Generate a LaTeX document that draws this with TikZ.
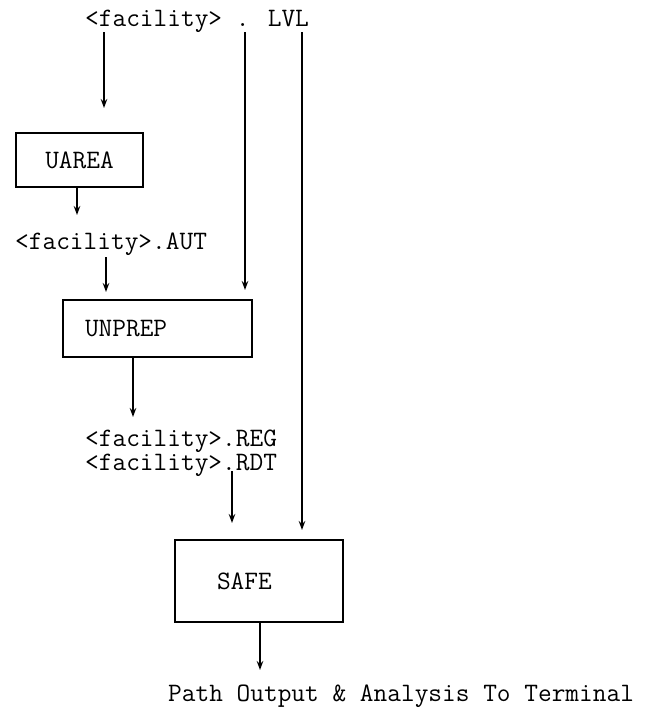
\documentclass[tikz,border=0pt]{standalone}
\usepackage{fontspec}
\usetikzlibrary{arrows.meta}
\begin{document}
\begin{tikzpicture}[x=1pt,y=-1pt,
  tfont/.style={font=\ttfamily\fontsize{26.6}{22}\selectfont},
  txt/.style={tfont, inner sep=0pt, anchor=base west},
  box/.style={draw, line width=1.4pt, tfont, inner ysep=0pt},
  arr/.style={line width=1.4pt, -{Stealth[length=9pt,width=6.5pt]}}]
\useasboundingbox (0,0) rectangle (647,713);
% texts
\node[txt] (top) at (85,26) {<facility> . LVL};
\node[box, minimum width=127pt, minimum height=54pt] (uarea) at (79.5,160) {UAREA};
\node[txt] (aut) at (15,249) {<facility>.AUT};
\node[box, minimum height=57pt, text width=145pt, inner xsep=22pt, align=left] (unprep) at (157.5,328.5) {UNPREP};
\node[txt] (reg) at (85,446) {<facility>.REG};
\node[txt] (rdt) at (85,470) {<facility>.RDT};
\node[box, minimum height=82pt, text width=84pt, inner xsep=42pt, align=left] (safe) at (259,581) {SAFE};
\node[txt] (path) at (168,701) {Path Output \& Analysis To Terminal};
% connector end points
\coordinate (s1) at (104,32);  \coordinate (e1) at (104,108);
\coordinate (s2) at (245,32);  \coordinate (e2) at (245,290);
\coordinate (s3) at (302,32);  \coordinate (e3) at (302,530);
\coordinate (e4) at (77,215);
\coordinate (s5) at (106,257); \coordinate (e5) at (106,292);
\coordinate (e6) at (133,417);
\coordinate (s7) at (232,471); \coordinate (e7) at (232,523);
\coordinate (e8) at (260,670);
% connectors
\draw[arr] (s1) -- (e1);
\draw[arr] (s2) -- (e2);
\draw[arr] (s3) -- (e3);
\draw[arr] (uarea.south -| e4) -- (e4);
\draw[arr] (s5) -- (e5);
\draw[arr] (unprep.south -| e6) -- (e6);
\draw[arr] (s7) -- (e7);
\draw[arr] (safe.south -| e8) -- (e8);
\end{tikzpicture}
\end{document}
